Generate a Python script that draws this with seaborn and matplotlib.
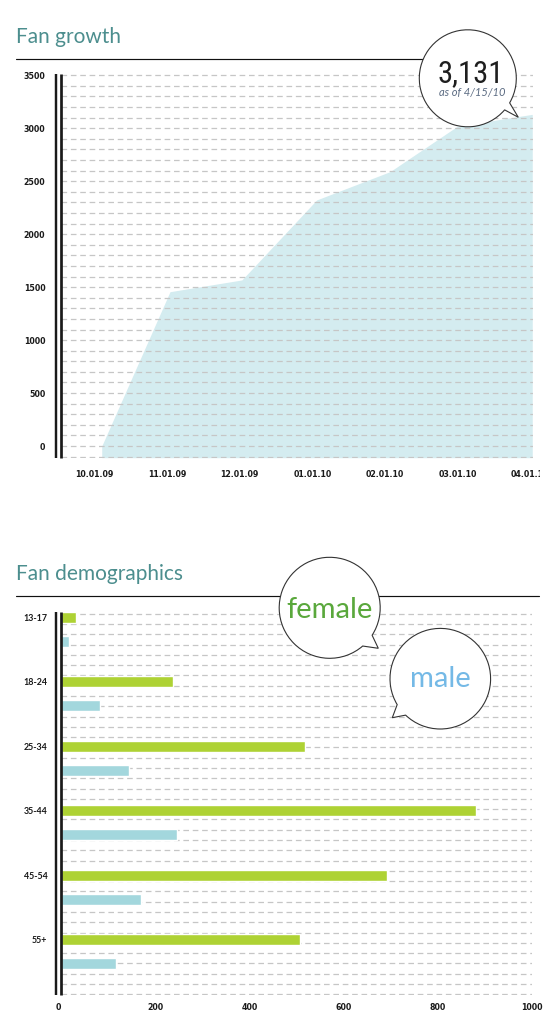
import numpy as np
import pandas as pd
import matplotlib
matplotlib.use("Agg")
import matplotlib.pyplot as plt
import seaborn as sns
from matplotlib.path import Path
from matplotlib.patches import PathPatch
from matplotlib.transforms import Bbox

# =====================================================
# DATA
# =====================================================

# fan growth: months after 10.01.09 and total fans
growth_months = [0.1, 1.04, 2.03, 3.06, 4.07, 4.99, 5.68, 6.03]
growth_fans = [0, 1457, 1568, 2323, 2590, 3015, 3094, 3131]
month_labels = ["10.01.09", "11.01.09", "12.01.09", "01.01.10",
                "02.01.10", "03.01.10", "04.01.10"]

# demographics
age_groups = ["13-17", "18-24", "25-34", "35-44", "45-54", "55+"]
female_fans = [31, 237, 518, 880, 693, 507]
male_fans = [16, 82, 144, 246, 169, 116]

# =====================================================
# STYLE
# =====================================================

sns.set_style("white")
plt.rcParams["font.family"] = ["DejaVu Sans"]

W, H = 554, 1023
TEAL = "#4c8e8e"
FILL = "#d4ecf0"
GREEN = "#aed234"
CYAN = "#a3d7dd"
GRID = "#c6c6c6"


def frac(left, top, right, bottom):
    return [left / W, 1 - bottom / H, (right - left) / W, (bottom - top) / H]


fig = plt.figure(figsize=(W / 100, H / 100), dpi=100)

# =====================================================
# 1. FAN GROWTH
# =====================================================

ax1 = fig.add_axes(frac(61.3, 74, 532.7, 457.7))
ymin1 = -110
ax1.fill_between(growth_months, growth_fans, ymin1, color=FILL, lw=0, zorder=1)
ax1.set_xlim(-0.457, 6.036)
ax1.set_ylim(ymin1, 3512)

ax1.set_yticks(np.arange(0, 3501, 500))
ax1.set_yticks(np.arange(-100, 3501, 100), minor=True)
ax1.set_xticks(range(len(month_labels)), month_labels)
ax1.grid(which="both", axis="y", color=GRID, lw=0.9, ls=(0, (4.5, 3)))
ax1.grid(axis="x", visible=False)
ax1.set_axisbelow(False)
ax1.tick_params(which="both", length=0)
ax1.tick_params(axis="y", pad=11.5)
ax1.tick_params(axis="x", pad=9)
for lab in ax1.get_yticklabels() + ax1.get_xticklabels():
    lab.set_fontsize(5.7)
    lab.set_fontweight("bold")
    lab.set_color("#1a1a1a")
for s in ax1.spines.values():
    s.set_visible(False)

# last date label is cut at the edge like the original
last = ax1.get_xticklabels()[-1]
last.set_clip_on(True)
last.set_clip_box(Bbox.from_extents(0, 0, 540, H))

# =====================================================
# 2. FAN DEMOGRAPHICS
# =====================================================

demo = pd.DataFrame({
    "age": age_groups * 2,
    "sex": ["female"] * len(age_groups) + ["male"] * len(age_groups),
    "fans": female_fans + male_fans,
})

ax2 = fig.add_axes(frac(61.3, 612, 532, 995))
sns.barplot(
    data=demo, x="fans", y="age", hue="sex", orient="h",
    palette={"female": GREEN, "male": CYAN}, saturation=1,
    width=0.745, gap=0.54, legend=False, ax=ax2,
)
ax2.set_xlim(0, 1000)
ax2.set_ylim(5.675, -0.272)
ax2.set_xticks(np.arange(0, 1001, 200))
ax2.set_yticks([i - 0.186 for i in range(len(age_groups))], age_groups)
ax2.set_yticks(np.linspace(-0.245, 5.665, 38), minor=True)
ax2.grid(which="minor", axis="y", color=GRID, lw=0.9, ls=(0, (4.5, 3)))
ax2.grid(which="major", visible=False)
ax2.set_axisbelow(True)
ax2.set_xlabel("")
ax2.set_ylabel("")
ax2.tick_params(which="both", length=0)
ax2.tick_params(axis="y", pad=10)
ax2.tick_params(axis="x", pad=6)
for lab in ax2.get_xticklabels():
    lab.set_fontsize(5.7)
    lab.set_fontweight("bold")
    lab.set_color("#1a1a1a")
ax2.get_xticklabels()[0].set_horizontalalignment("right")
for lab in ax2.get_yticklabels():
    lab.set_family(["Lato", "DejaVu Sans"])
    lab.set_fontsize(6.4)
    lab.set_fontweight("bold")
    lab.set_color("#1a1a1a")
for s in ax2.spines.values():
    s.set_visible(False)

# =====================================================
# OVERLAY: titles, rules, axis lines, bubbles
# =====================================================

ov = fig.add_axes([0, 0, 1, 1], zorder=10)
ov.set_xlim(0, W)
ov.set_ylim(H, 0)
ov.axis("off")
ov.patch.set_alpha(0)

title_font = dict(family=["Lato", "DejaVu Sans"], fontsize=15, color=TEAL)
ov.text(16, 43, "Fan growth", va="baseline", ha="left", **title_font)
ov.text(16, 579.5, "Fan demographics", va="baseline", ha="left", **title_font)

ov.plot([16, 468], [59.3, 59.3], color="#111111", lw=0.85, zorder=1)
ov.plot([16, 539], [596, 596], color="#111111", lw=0.85, zorder=1)

for top, bottom in [(74, 457.7), (612, 995)]:
    ov.plot([55.5, 55.5], [top, bottom], color="#1a1a1a", lw=1.75,
            solid_capstyle="butt", zorder=2)
    ov.plot([61.3, 61.3], [top, bottom], color="#1a1a1a", lw=1.95,
            solid_capstyle="butt", zorder=2)


def bubble(cx, cy, r, a_from, a_to, apex):
    arc = Path.arc(a_from, a_to)
    verts = arc.vertices * r + [cx, cy]
    verts = np.vstack([verts, apex, verts[0]])
    codes = list(arc.codes) + [Path.LINETO, Path.CLOSEPOLY]
    patch = PathPatch(Path(verts, codes), facecolor="white",
                      edgecolor="#333333", lw=0.8, zorder=5)
    ov.add_patch(patch)


bubble(467.8, 78.3, 48.5, 40.6, 30.4, (518.3, 117.3))
bubble(329.7, 607.8, 50.5, 49.2, 32.9, (378.3, 648.3))
bubble(440.3, 678.7, 50.3, 149, 133.6, (392.3, 717.7))

ov.text(471, 82.5, "3,131", ha="center", va="baseline", zorder=6,
        family=["Liberation Sans Narrow", "Roboto Condensed",
                "Liberation Serif", "DejaVu Serif"],
        fontsize=22, color="#1e1e1e")
ov.text(472.7, 96, "as of 4/15/10", ha="center", va="baseline", zorder=6,
        family=["Lato", "DejaVu Sans"], style="italic", fontsize=8,
        color="#5b6b82")
ov.text(330, 618, "female", ha="center", va="baseline", zorder=6,
        family=["Lato", "DejaVu Sans"], fontsize=21, color="#5aa83c")
ov.text(440, 687, "male", ha="center", va="baseline", zorder=6,
        family=["Lato", "DejaVu Sans"], fontsize=21, color="#74b9e6")

fig.savefig("out.png", dpi=100)
